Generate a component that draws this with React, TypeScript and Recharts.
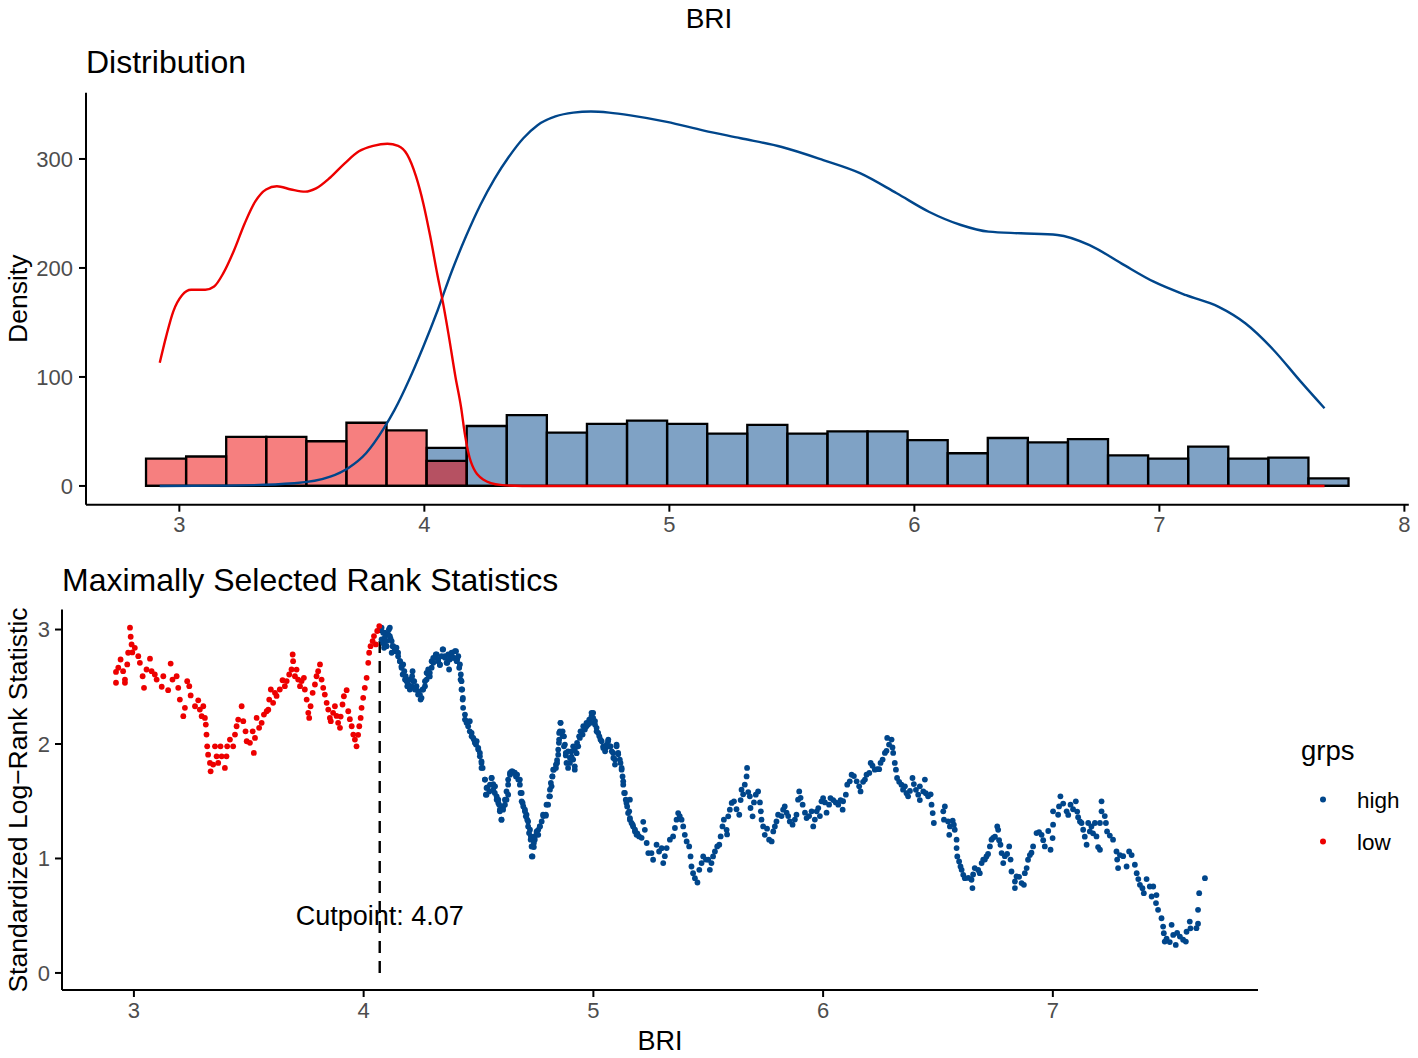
import React from "react";
import {
  ComposedChart,
  ScatterChart,
  Scatter,
  Line,
  XAxis,
  YAxis,
  ReferenceArea,
  ReferenceLine,
  ReferenceDot,
} from "recharts";

const HIGH_COLOR = "#00468B";
const LOW_COLOR = "#ED0000";
const FONT = "'Liberation Sans', Arial, Helvetica, sans-serif";

// Histogram (30 bins)
const BIN_START = 2.864;
const BIN_WIDTH = 0.1636;
const HIST_HIGH = [0, 0, 0, 0, 0, 0, 0, 35, 55, 65, 49, 57, 60, 57, 48, 56, 48, 50, 50, 42, 30, 44, 40, 43, 28, 25, 36, 25, 26, 7];
const HIST_LOW = [25, 27, 45, 45, 41, 58, 51, 23, 0, 0, 0, 0, 0, 0, 0, 0, 0, 0, 0, 0, 0, 0, 0, 0, 0, 0, 0, 0, 0, 0];

// Density curves [BRI, density]
const DENSITY_LOW: [number, number][] = [
  [2.92, 113], [2.946, 137], [2.975, 160], [3.011, 175], [3.048, 180], [3.075, 180], [3.106, 180],
  [3.142, 183], [3.179, 195], [3.223, 216], [3.267, 241], [3.31, 261], [3.354, 272], [3.398, 275],
  [3.456, 272], [3.514, 270], [3.558, 273], [3.616, 283], [3.675, 296], [3.733, 307], [3.791, 312],
  [3.849, 314], [3.893, 312], [3.93, 304], [3.966, 284], [3.996, 259], [4.024, 229], [4.053, 194],
  [4.076, 168], [4.098, 140], [4.127, 100], [4.15, 72], [4.165, 48], [4.19, 22], [4.24, 6],
  [4.31, 1], [4.4, 0], [7.674, 0],
];
const DENSITY_HIGH: [number, number][] = [
  [2.92, 0], [3.2, 0.3], [3.469, 2.5], [3.616, 8.5], [3.69, 16.5], [3.762, 30], [3.835, 53],
  [3.879, 70], [3.937, 97], [3.996, 128], [4.054, 161], [4.112, 197], [4.17, 229], [4.229, 258],
  [4.287, 282], [4.345, 302], [4.404, 319], [4.462, 331], [4.535, 339], [4.608, 342.5],
  [4.68, 343.5], [4.754, 342.5], [4.841, 340], [4.99, 334], [5.141, 326], [5.291, 319],
  [5.459, 311], [5.628, 299], [5.778, 287], [5.928, 268.5], [6.059, 251.6], [6.19, 239.4],
  [6.303, 233.3], [6.434, 231.8], [6.584, 230.3], [6.715, 221], [6.846, 204], [6.977, 187.4],
  [7.109, 175], [7.24, 164.5], [7.352, 149], [7.465, 125], [7.577, 95.7], [7.674, 71.3],
];

// Maximally selected rank statistics [BRI, statistic]
const LOW_POINTS: [number, number][] = [
  [2.922, 2.535], [2.922, 2.63], [2.932, 2.666], [2.942, 2.738], [2.953, 2.636], [2.961, 2.535],
  [2.961, 2.563], [2.971, 2.695], [2.975, 2.797], [2.983, 3.016], [2.986, 2.937], [2.99, 2.87],
  [2.993, 2.8], [3.004, 2.84], [3.019, 2.767], [3.026, 2.709], [3.038, 2.592], [3.044, 2.491],
  [3.055, 2.651], [3.07, 2.745], [3.077, 2.636], [3.091, 2.607], [3.099, 2.563], [3.121, 2.5],
  [3.128, 2.592], [3.149, 2.47], [3.16, 2.703], [3.168, 2.563], [3.186, 2.592], [3.193, 2.491],
  [3.2, 2.388], [3.215, 2.243], [3.222, 2.316], [3.232, 2.549], [3.241, 2.505], [3.247, 2.424],
  [3.266, 2.33], [3.28, 2.382], [3.287, 2.301], [3.295, 2.243], [3.302, 2.33], [3.309, 2.228],
  [3.313, 2.17], [3.316, 2.082], [3.319, 1.98], [3.323, 1.907], [3.331, 1.835], [3.334, 1.761],
  [3.345, 1.82], [3.353, 1.98], [3.36, 1.892], [3.367, 1.835], [3.377, 1.98], [3.382, 1.892],
  [3.396, 1.791], [3.403, 1.892], [3.406, 1.98], [3.418, 2.039], [3.432, 1.98], [3.44, 2.082],
  [3.447, 2.155], [3.454, 2.213], [3.469, 2.33], [3.476, 2.199], [3.486, 2.111], [3.491, 2.024],
  [3.505, 2.01], [3.517, 2.111], [3.522, 1.922], [3.527, 2.053], [3.534, 2.228], [3.545, 2.141],
  [3.556, 2.185], [3.566, 2.257], [3.578, 2.286], [3.585, 2.3], [3.589, 2.388], [3.596, 2.476],
  [3.606, 2.36], [3.614, 2.447], [3.621, 2.42], [3.635, 2.476], [3.647, 2.557], [3.657, 2.505],
  [3.665, 2.55], [3.676, 2.607], [3.686, 2.651], [3.691, 2.782], [3.693, 2.724], [3.701, 2.592],
  [3.708, 2.65], [3.715, 2.563], [3.723, 2.505], [3.73, 2.55], [3.74, 2.578], [3.744, 2.476],
  [3.752, 2.388], [3.759, 2.272], [3.763, 2.228], [3.769, 2.33], [3.778, 2.447], [3.788, 2.52],
  [3.795, 2.592], [3.802, 2.636], [3.81, 2.695], [3.817, 2.563], [3.824, 2.491], [3.831, 2.432],
  [3.839, 2.36], [3.846, 2.301], [3.853, 2.228], [3.857, 2.199], [3.867, 2.272], [3.875, 2.33],
  [3.882, 2.245], [3.889, 2.185], [3.897, 2.141], [3.9, 2.24], [3.908, 2.345], [3.914, 2.417],
  [3.926, 2.47], [3.933, 2.286], [3.94, 2.217], [3.948, 2.155], [3.955, 2.082], [3.962, 2.039],
  [3.969, 1.98], [3.976, 2.08], [3.981, 2.155], [3.987, 2.228], [3.991, 2.316], [3.998, 2.403],
  [4.005, 2.491], [4.013, 2.578], [4.02, 2.709], [4.024, 2.797], [4.03, 2.855], [4.039, 2.899],
  [4.045, 2.943], [4.053, 2.87], [4.059, 2.987], [4.068, 3.03],
];

const HIGH_POINTS: [number, number][] = [
  [4.071, 3.0], [4.078, 2.913], [4.085, 2.88], [4.092, 2.972], [4.1, 2.855], [4.107, 2.957],
  [4.114, 3.016], [4.117, 2.92], [4.126, 2.855], [4.136, 2.826], [4.15, 2.797], [4.158, 2.724],
  [4.165, 2.666], [4.17, 2.607], [4.18, 2.563], [4.19, 2.505], [4.201, 2.476], [4.213, 2.636],
  [4.216, 2.55], [4.227, 2.491], [4.237, 2.432], [4.248, 2.388], [4.257, 2.476], [4.267, 2.549],
  [4.274, 2.622], [4.281, 2.651], [4.288, 2.59], [4.296, 2.724], [4.303, 2.753], [4.314, 2.782],
  [4.324, 2.724], [4.332, 2.69], [4.344, 2.826], [4.354, 2.767], [4.364, 2.709], [4.372, 2.651],
  [4.383, 2.782], [4.393, 2.753], [4.402, 2.811], [4.407, 2.738], [4.416, 2.666], [4.422, 2.563],
  [4.426, 2.476], [4.431, 2.388], [4.433, 2.316], [4.441, 2.257], [4.448, 2.199], [4.455, 2.155],
  [4.462, 2.111], [4.47, 2.067], [4.48, 2.039], [4.489, 1.995], [4.499, 1.951], [4.506, 1.892],
  [4.513, 1.835], [4.518, 1.791], [4.528, 1.689], [4.532, 1.557], [4.538, 1.62], [4.547, 1.586],
  [4.557, 1.703], [4.564, 1.65], [4.571, 1.572], [4.579, 1.514], [4.586, 1.485], [4.593, 1.426],
  [4.6, 1.339], [4.607, 1.45], [4.615, 1.514], [4.622, 1.586], [4.629, 1.689], [4.637, 1.747],
  [4.648, 1.761], [4.658, 1.75], [4.668, 1.732], [4.68, 1.689], [4.688, 1.572], [4.692, 1.485],
  [4.702, 1.426], [4.709, 1.382], [4.716, 1.324], [4.724, 1.251], [4.728, 1.193], [4.734, 1.105],
  [4.735, 1.018], [4.741, 1.1], [4.745, 1.164], [4.753, 1.222], [4.76, 1.25], [4.767, 1.28],
  [4.775, 1.324], [4.782, 1.37], [4.793, 1.374], [4.803, 1.47], [4.811, 1.543], [4.818, 1.63],
  [4.822, 1.717], [4.828, 1.776], [4.837, 1.82], [4.842, 1.86], [4.847, 1.951], [4.851, 2.039],
  [4.854, 2.111], [4.857, 2.185], [4.866, 2.07], [4.872, 1.98], [4.88, 1.9], [4.89, 1.936],
  [4.898, 1.835], [4.905, 1.89], [4.912, 1.98], [4.919, 1.805], [4.927, 1.92], [4.934, 1.98],
  [4.941, 2.053], [4.949, 2.111], [4.956, 2.155], [4.97, 2.185], [4.982, 2.213], [4.992, 2.243],
  [4.999, 2.272], [5.007, 2.2], [5.014, 2.141], [5.021, 2.097], [5.031, 2.039], [5.043, 1.98],
  [5.054, 1.966], [5.064, 2.024], [5.075, 1.98], [5.086, 1.922], [5.094, 1.864], [5.101, 1.98],
  [5.108, 1.91], [5.118, 1.835], [5.123, 1.776], [5.13, 1.674], [5.137, 1.572], [5.144, 1.485],
  [5.151, 1.397], [5.159, 1.339], [5.159, 1.514], [5.171, 1.295], [5.181, 1.251], [5.191, 1.22],
  [5.199, 1.193], [5.21, 1.18], [5.217, 1.32], [5.224, 1.25], [5.232, 1.135], [5.239, 1.047],
  [5.253, 1.047], [5.26, 0.989], [5.275, 1.12], [5.286, 1.061], [5.297, 1.09], [5.304, 0.96],
  [5.311, 1.02], [5.319, 1.091], [5.333, 1.164], [5.347, 1.193], [5.355, 1.266], [5.362, 1.339],
  [5.369, 1.397], [5.376, 1.37], [5.384, 1.339], [5.391, 1.28], [5.398, 1.207], [5.406, 1.149],
  [5.417, 1.105], [5.423, 1.018], [5.427, 0.93], [5.434, 0.872], [5.442, 0.828], [5.453, 0.79],
  [5.461, 0.901], [5.471, 0.96], [5.478, 1.018], [5.49, 0.99], [5.5, 0.989], [5.507, 0.901],
  [5.514, 0.96], [5.521, 1.018], [5.529, 1.061], [5.539, 1.105], [5.548, 1.12], [5.554, 1.193],
  [5.562, 1.28], [5.568, 1.339], [5.58, 1.25], [5.582, 1.21], [5.587, 1.368], [5.594, 1.426],
  [5.602, 1.485], [5.612, 1.499], [5.623, 1.43], [5.635, 1.382], [5.641, 1.51], [5.645, 1.601],
  [5.652, 1.56], [5.659, 1.645], [5.667, 1.717], [5.669, 1.791], [5.674, 1.58], [5.681, 1.543],
  [5.684, 1.441], [5.693, 1.368], [5.699, 1.49], [5.707, 1.557], [5.717, 1.586], [5.725, 1.49],
  [5.729, 1.412], [5.732, 1.339], [5.739, 1.28], [5.746, 1.207], [5.756, 1.26], [5.765, 1.164],
  [5.776, 1.149], [5.783, 1.236], [5.79, 1.28], [5.797, 1.324], [5.804, 1.382], [5.819, 1.37],
  [5.826, 1.426], [5.833, 1.455], [5.841, 1.4], [5.848, 1.37], [5.855, 1.324], [5.867, 1.295],
  [5.877, 1.34], [5.884, 1.382], [5.891, 1.514], [5.896, 1.586], [5.902, 1.53], [5.911, 1.47],
  [5.921, 1.4], [5.928, 1.353], [5.939, 1.37], [5.95, 1.412], [5.957, 1.28], [5.964, 1.34],
  [5.972, 1.412], [5.979, 1.44], [5.986, 1.37], [5.993, 1.499], [6.0, 1.528], [6.008, 1.49],
  [6.015, 1.4], [6.026, 1.47], [6.032, 1.528], [6.044, 1.51], [6.055, 1.49], [6.066, 1.47],
  [6.076, 1.51], [6.085, 1.426], [6.087, 1.5], [6.099, 1.557], [6.105, 1.645], [6.116, 1.674],
  [6.124, 1.732], [6.134, 1.72], [6.146, 1.674], [6.157, 1.63], [6.163, 1.586], [6.174, 1.67],
  [6.182, 1.689], [6.189, 1.732], [6.201, 1.747], [6.207, 1.835], [6.215, 1.81], [6.225, 1.776],
  [6.235, 1.78], [6.244, 1.78], [6.25, 1.835], [6.259, 1.864], [6.269, 1.922], [6.276, 1.94],
  [6.279, 2.053], [6.287, 1.995], [6.298, 2.039], [6.302, 1.97], [6.305, 1.922], [6.312, 1.835],
  [6.317, 1.776], [6.322, 1.703], [6.331, 1.67], [6.341, 1.645], [6.348, 1.601], [6.356, 1.63],
  [6.363, 1.57], [6.37, 1.543], [6.378, 1.59], [6.389, 1.703], [6.395, 1.65], [6.404, 1.6],
  [6.414, 1.557], [6.421, 1.51], [6.421, 1.63], [6.436, 1.586], [6.443, 1.689], [6.447, 1.57],
  [6.457, 1.543], [6.468, 1.56], [6.472, 1.47], [6.477, 1.397], [6.482, 1.31], [6.523, 1.412],
  [6.526, 1.339], [6.53, 1.455], [6.544, 1.324], [6.549, 1.207], [6.552, 1.28], [6.564, 1.33],
  [6.569, 1.295], [6.573, 1.251], [6.581, 1.164], [6.581, 1.091], [6.584, 1.018], [6.592, 0.974],
  [6.598, 0.93], [6.603, 0.901], [6.61, 0.857], [6.617, 0.828], [6.632, 0.83], [6.646, 0.814],
  [6.65, 0.741], [6.653, 0.86], [6.66, 0.916], [6.675, 0.9], [6.682, 0.872], [6.69, 0.96],
  [6.697, 0.99], [6.704, 0.99], [6.711, 1.018], [6.718, 1.04], [6.726, 1.105], [6.733, 1.164],
  [6.74, 1.18], [6.748, 1.19], [6.758, 1.28], [6.762, 1.25], [6.766, 1.16], [6.772, 1.12],
  [6.777, 1.047], [6.784, 0.96], [6.791, 1.02], [6.801, 1.04], [6.81, 1.105], [6.816, 0.99],
  [6.82, 0.886], [6.835, 0.799], [6.835, 0.741], [6.842, 0.843], [6.853, 0.84], [6.864, 0.785],
  [6.874, 0.77], [6.878, 0.872], [6.886, 0.916], [6.892, 0.989], [6.9, 1.03], [6.907, 1.05],
  [6.914, 1.105], [6.929, 1.222], [6.94, 1.23], [6.951, 1.207], [6.958, 1.16], [6.965, 1.105],
  [6.98, 1.24], [6.99, 1.076], [6.999, 1.178], [7.001, 1.295], [7.001, 1.412], [7.023, 1.382],
  [7.027, 1.455], [7.033, 1.543], [7.045, 1.48], [7.06, 1.412], [7.067, 1.38], [7.077, 1.47],
  [7.088, 1.43], [7.1, 1.499], [7.106, 1.41], [7.11, 1.36], [7.118, 1.324], [7.125, 1.31],
  [7.132, 1.251], [7.139, 1.19], [7.147, 1.12], [7.154, 1.31], [7.161, 1.236], [7.168, 1.28],
  [7.175, 1.22], [7.183, 1.31], [7.19, 1.193], [7.197, 1.1], [7.205, 1.076], [7.205, 1.31],
  [7.212, 1.412], [7.212, 1.499], [7.226, 1.37], [7.231, 1.31], [7.236, 1.236], [7.248, 1.2],
  [7.262, 1.164], [7.277, 1.061], [7.28, 0.99], [7.284, 0.916], [7.292, 1.03], [7.306, 1.02],
  [7.321, 0.93], [7.332, 1.061], [7.343, 1.03], [7.357, 0.945], [7.365, 0.872], [7.372, 0.82],
  [7.379, 0.77], [7.39, 0.74], [7.396, 0.697], [7.408, 0.82], [7.422, 0.755], [7.43, 0.668],
  [7.437, 0.755], [7.449, 0.61], [7.451, 0.68], [7.458, 0.551], [7.473, 0.478], [7.48, 0.405],
  [7.483, 0.347], [7.487, 0.274], [7.495, 0.3], [7.509, 0.27], [7.517, 0.42], [7.524, 0.332],
  [7.535, 0.245], [7.541, 0.35], [7.553, 0.318], [7.567, 0.29], [7.579, 0.274], [7.582, 0.36],
  [7.596, 0.449], [7.599, 0.39], [7.625, 0.391], [7.632, 0.43], [7.632, 0.551], [7.637, 0.697],
  [7.662, 0.828],
];

const HIGH_POINTS_DETAIL: [number, number][] = [
  [4.078, 3.016], [4.085, 2.972], [4.092, 2.928], [4.089, 2.841], [4.1, 2.899], [4.11, 3.001],
  [4.114, 2.942], [4.122, 2.899], [4.129, 2.855], [4.122, 2.797], [4.136, 2.811], [4.143, 2.841],
  [4.15, 2.767], [4.158, 2.724], [4.165, 2.68], [4.172, 2.695], [4.177, 2.636], [4.183, 2.592],
  [4.187, 2.549], [4.194, 2.52], [4.201, 2.563], [4.209, 2.505], [4.211, 2.592], [4.22, 2.549],
  [4.223, 2.476], [4.23, 2.505], [4.237, 2.461], [4.245, 2.432], [4.252, 2.403], [4.259, 2.476],
  [4.267, 2.505], [4.274, 2.563], [4.281, 2.607], [4.288, 2.622], [4.296, 2.666], [4.303, 2.709],
  [4.31, 2.753], [4.318, 2.782], [4.325, 2.738], [4.332, 2.695], [4.339, 2.767], [4.346, 2.826],
  [4.354, 2.753], [4.361, 2.709], [4.368, 2.782], [4.375, 2.738], [4.383, 2.797], [4.39, 2.753],
  [4.397, 2.811], [4.405, 2.724], [4.412, 2.767], [4.419, 2.695], [4.423, 2.607], [4.426, 2.549],
  [4.429, 2.476], [4.432, 2.403],
  [4.441, 2.213], [4.448, 2.185], [4.462, 2.199], [4.47, 2.097], [4.477, 2.053], [4.484, 2.01],
  [4.492, 2.024], [4.499, 1.966], [4.506, 1.922], [4.513, 1.849], [4.513, 1.791], [4.528, 1.689],
  [4.535, 1.616], [4.535, 1.557], [4.55, 1.645], [4.557, 1.703], [4.564, 1.601], [4.572, 1.63],
  [4.579, 1.543], [4.586, 1.514], [4.59, 1.47], [4.593, 1.412], [4.6, 1.339], [4.607, 1.426],
  [4.615, 1.47], [4.622, 1.514], [4.629, 1.557], [4.629, 1.645], [4.637, 1.732], [4.644, 1.761],
  [4.654, 1.747], [4.663, 1.717], [4.673, 1.689], [4.68, 1.645], [4.683, 1.572], [4.688, 1.499],
  [4.695, 1.455], [4.702, 1.412], [4.706, 1.368], [4.712, 1.339], [4.716, 1.28], [4.72, 1.222],
  [4.727, 1.164], [4.731, 1.105], [4.732, 1.018], [4.741, 1.135], [4.745, 1.193], [4.753, 1.236],
  [4.76, 1.207], [4.767, 1.28], [4.781, 1.382], [4.793, 1.382], [4.796, 1.47], [4.808, 1.543],
  [4.811, 1.601], [4.815, 1.66], [4.821, 1.717], [4.825, 1.776], [4.837, 1.791], [4.842, 1.835],
  [4.847, 1.907], [4.85, 2.01], [4.851, 2.097], [4.857, 2.185], [4.866, 2.111], [4.872, 2.067],
  [4.876, 1.995], [4.88, 1.922], [4.883, 1.835], [4.89, 1.791], [4.898, 1.878], [4.905, 1.936],
  [4.912, 1.864], [4.919, 1.776], [4.919, 1.951], [4.929, 2.01], [4.938, 2.067], [4.944, 2.111],
  [4.953, 2.082], [4.963, 2.126], [4.97, 2.155], [4.977, 2.17], [4.988, 2.185], [4.992, 2.272],
  [4.999, 2.228], [5.007, 2.17], [5.014, 2.111], [5.026, 2.067], [5.036, 2.024], [5.043, 1.966],
  [5.051, 1.936], [5.058, 1.995], [5.065, 2.039], [5.072, 1.98], [5.08, 1.936], [5.087, 1.878],
  [5.094, 1.82], [5.101, 1.995], [5.108, 1.922], [5.115, 1.864], [5.123, 1.791], [5.127, 1.717],
  [5.13, 1.645], [5.134, 1.572], [5.141, 1.514], [5.147, 1.455], [5.156, 1.412], [5.159, 1.353],
  [5.166, 1.31], [5.173, 1.28], [5.181, 1.236], [5.188, 1.207],
];

const CUTPOINT = 4.07;
const CUT_LABEL_Y = 0.5;
const CUT_STAT_MAX = 3.02;

const TOP_X_TICKS = [3, 4, 5, 6, 7, 8];
const TOP_Y_TICKS = [0, 100, 200, 300];
const BOTTOM_X_TICKS = [3, 4, 5, 6, 7];
const BOTTOM_Y_TICKS = [0, 1, 2, 3];

const tickStyle = { fill: "#4D4D4D", fontSize: 22, fontFamily: FONT };
const axisLineStyle = { stroke: "#000", strokeWidth: 2 };

export default function App() {
  const bins = HIST_HIGH.map((h, i) => ({
    x1: BIN_START + i * BIN_WIDTH,
    x2: BIN_START + (i + 1) * BIN_WIDTH,
    high: h,
    low: HIST_LOW[i],
  }));
  const binEnd = BIN_START + HIST_HIGH.length * BIN_WIDTH;
  const lowDensity = DENSITY_LOW.map(([x, y]) => ({ x, y }));
  const highDensity = DENSITY_HIGH.map(([x, y]) => ({ x, y }));
  const lowPts = LOW_POINTS.map(([x, y]) => ({ x, y }));
  const highPts = HIGH_POINTS.concat(HIGH_POINTS_DETAIL).map(([x, y]) => ({ x, y }));

  return (
    <div
      style={{
        position: "absolute",
        left: 0,
        top: 0,
        width: 1418,
        height: 1058,
        background: "#fff",
        fontFamily: FONT,
        overflow: "hidden",
      }}
    >
      <div style={{ position: "absolute", left: 0, top: 0 }}>
        <ComposedChart
          width={1418}
          height={540}
          margin={{ top: 92.8, right: 9.2, bottom: 0, left: 0 }}
        >
          <XAxis
            type="number"
            dataKey="x"
            domain={[2.619, 8.018]}
            allowDataOverflow
            ticks={TOP_X_TICKS}
            interval={0}
            height={35.3}
            tick={tickStyle}
            axisLine={axisLineStyle}
            tickLine={axisLineStyle}
            tickSize={7}
            tickMargin={5}
          />
          <YAxis
            type="number"
            domain={[-17.2, 360.7]}
            allowDataOverflow
            ticks={TOP_Y_TICKS}
            interval={0}
            width={86}
            tick={tickStyle}
            axisLine={axisLineStyle}
            tickLine={axisLineStyle}
            tickSize={7}
            tickMargin={6}
          />
          {bins
            .filter((b) => b.high > 0)
            .map((b, i) => (
              <ReferenceArea
                key={"h" + i}
                x1={b.x1}
                x2={b.x2}
                y1={0}
                y2={b.high}
                fill={HIGH_COLOR}
                fillOpacity={0.5}
                stroke="#000"
                strokeWidth={2.3}
                strokeOpacity={1}
              />
            ))}
          {bins
            .filter((b) => b.low > 0)
            .map((b, i) => (
              <ReferenceArea
                key={"l" + i}
                x1={b.x1}
                x2={b.x2}
                y1={0}
                y2={b.low}
                fill={LOW_COLOR}
                fillOpacity={0.5}
                stroke="#000"
                strokeWidth={2.3}
                strokeOpacity={1}
              />
            ))}
          <ReferenceLine
            segment={[
              { x: BIN_START, y: 0 },
              { x: binEnd, y: 0 },
            ]}
            stroke="#000"
            strokeWidth={2.3}
          />
          <Line
            data={highDensity}
            dataKey="y"
            type="monotone"
            stroke={HIGH_COLOR}
            strokeWidth={2.4}
            dot={false}
            activeDot={false}
            isAnimationActive={false}
          />
          <Line
            data={lowDensity}
            dataKey="y"
            type="monotone"
            stroke={LOW_COLOR}
            strokeWidth={2.4}
            dot={false}
            activeDot={false}
            isAnimationActive={false}
          />
        </ComposedChart>
      </div>

      <div style={{ position: "absolute", left: 0, top: 540 }}>
        <ScatterChart
          width={1418}
          height={518}
          margin={{ top: 69.5, right: 160, bottom: 0, left: 0 }}
        >
          <XAxis
            type="number"
            dataKey="x"
            domain={[2.687, 7.893]}
            allowDataOverflow
            ticks={BOTTOM_X_TICKS}
            interval={0}
            height={68}
            tick={tickStyle}
            axisLine={axisLineStyle}
            tickLine={axisLineStyle}
            tickSize={7}
            tickMargin={5}
          />
          <YAxis
            type="number"
            dataKey="y"
            domain={[-0.149, 3.175]}
            allowDataOverflow
            ticks={BOTTOM_Y_TICKS}
            interval={0}
            width={62}
            tick={tickStyle}
            axisLine={axisLineStyle}
            tickLine={axisLineStyle}
            tickSize={7}
            tickMargin={5}
          />
          <ReferenceLine
            segment={[
              { x: CUTPOINT, y: 0 },
              { x: CUTPOINT, y: CUT_STAT_MAX },
            ]}
            stroke="#000"
            strokeWidth={2.4}
            strokeDasharray="12 8"
          />
          <Scatter
            data={highPts}
            isAnimationActive={false}
            shape={(p: any) => <circle cx={p.cx} cy={p.cy} r={2.9} fill={HIGH_COLOR} />}
          />
          <Scatter
            data={lowPts}
            isAnimationActive={false}
            shape={(p: any) => <circle cx={p.cx} cy={p.cy} r={2.9} fill={LOW_COLOR} />}
          />
          <ReferenceDot
            x={CUTPOINT}
            y={CUT_LABEL_Y}
            r={0}
            fill="none"
            stroke="none"
            label={{
              value: "Cutpoint: " + CUTPOINT.toFixed(2),
              position: "center",
              fill: "#000",
              fontSize: 27,
              fontFamily: FONT,
            }}
          />
        </ScatterChart>
      </div>

      <svg
        width={1418}
        height={1058}
        style={{ position: "absolute", left: 0, top: 0, pointerEvents: "none" }}
        fontFamily={FONT}
      >
        <text x={709} y={28} textAnchor="middle" fontSize={28} fill="#000">
          BRI
        </text>
        <text x={86} y={73} fontSize={32} fill="#000">
          Distribution
        </text>
        <text x={62} y={591} fontSize={32} fill="#000">
          Maximally Selected Rank Statistics
        </text>
        <text
          x={0}
          y={0}
          fontSize={26.5}
          fill="#000"
          textAnchor="middle"
          transform="translate(27,298.7) rotate(-90)"
        >
          Density
        </text>
        <text
          x={0}
          y={0}
          fontSize={26.5}
          fill="#000"
          textAnchor="middle"
          transform="translate(27,800) rotate(-90)"
        >
          Standardized Log−Rank Statistic
        </text>
        <text x={660} y={1050} textAnchor="middle" fontSize={27} fill="#000">
          BRI
        </text>
        <text x={1301} y={760} fontSize={27.5} fill="#000">
          grps
        </text>
        <circle cx={1323} cy={799.5} r={3} fill={HIGH_COLOR} />
        <text x={1357} y={807.5} fontSize={22.5} fill="#000">
          high
        </text>
        <circle cx={1323} cy={841.5} r={3} fill={LOW_COLOR} />
        <text x={1357} y={849.5} fontSize={22.5} fill="#000">
          low
        </text>
      </svg>
    </div>
  );
}
